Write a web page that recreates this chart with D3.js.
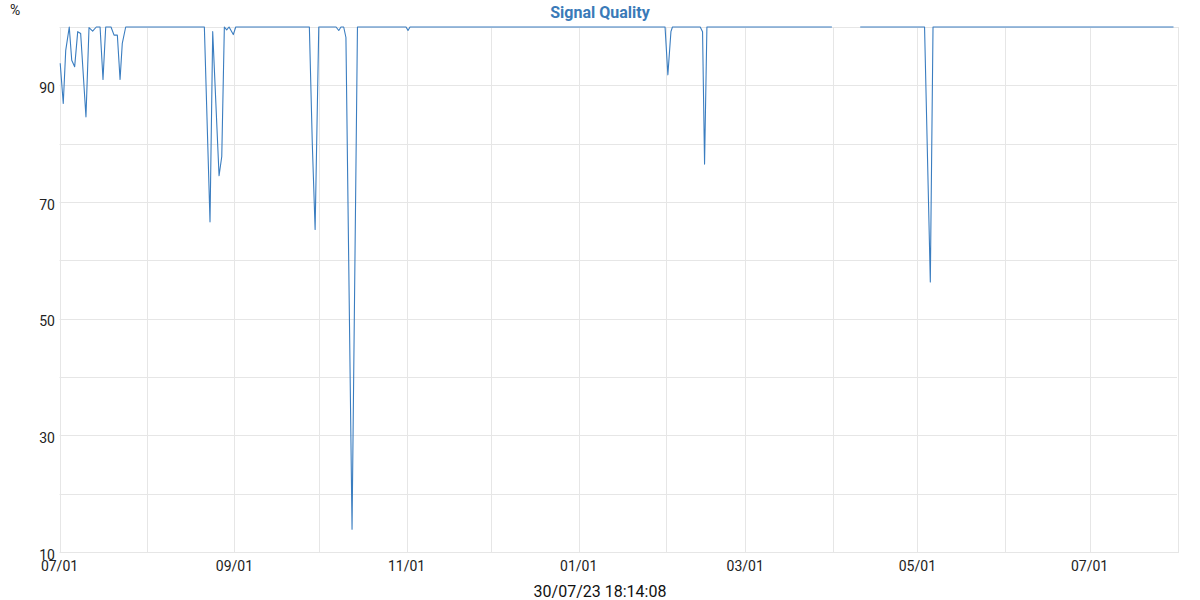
<!DOCTYPE html>
<html>
<head>
<meta charset="utf-8">
<script src="https://cdn.jsdelivr.net/npm/d3@7"></script>
<style>
  html, body { margin: 0; padding: 0; background: #fff; }
  svg { display: block; font-family: Roboto, "Noto Sans", sans-serif; }
</style>
</head>
<body>
<svg id="chart" width="1200" height="600"></svg>
<script>
// vertices of the signal quality trace (null = no data)
const sampleTimes = [
  '2022-07-01T06:00', '2022-07-02T08:00', '2022-07-03T05:00', '2022-07-04T11:00',
  '2022-07-05T08:00', '2022-07-06T09:00', '2022-07-07T11:00', '2022-07-08T12:00',
  '2022-07-10T09:00', '2022-07-11T11:00', '2022-07-12T18:00', '2022-07-14T01:00',
  '2022-07-15T09:00', '2022-07-16T10:00', '2022-07-17T09:00', '2022-07-19T06:00',
  '2022-07-20T08:00', '2022-07-21T12:00', '2022-07-22T11:00', '2022-07-23T06:00',
  '2022-07-24T11:00', '2022-08-21T08:00', '2022-08-23T08:00', '2022-08-24T07:00',
  '2022-08-26T13:00', '2022-08-27T12:00', '2022-08-28T10:00', '2022-08-29T06:00',
  '2022-08-30T02:00', '2022-08-31T14:00', '2022-09-01T11:00', '2022-09-27T13:00',
  '2022-09-28T14:00', '2022-09-29T14:00', '2022-09-30T21:00', '2022-10-07T00:00',
  '2022-10-07T23:00', '2022-10-08T18:00', '2022-10-09T17:00', '2022-10-10T12:00',
  '2022-10-12T16:00', '2022-10-14T14:00', '2022-10-31T19:00', '2022-11-01T12:00',
  '2022-11-02T05:00', '2023-01-31T14:00', '2023-02-01T14:00', '2023-02-02T16:00',
  '2023-02-03T05:00', '2023-02-13T01:00', '2023-02-13T21:00', '2023-02-14T14:00',
  '2023-02-15T10:00', '2023-03-31T17:00', '2023-04-05T00:00', '2023-04-10T18:00',
  '2023-05-03T13:00', '2023-05-05T14:00', '2023-05-06T13:00', '2023-07-30T18:14'
]
const quality = [
  93.8, 86.9, 96, 100,
  94.3, 93.2, 99.2, 98.9,
  84.6, 99.9, 99.3, 100,
  100, 91, 100, 100,
  98.6, 98.6, 91, 97.2,
  100, 100, 66.6, 99.2,
  74.5, 77.8, 100, 99.5,
  100, 98.7, 100, 100,
  80, 65.3, 100, 100,
  99.4, 100, 100, 98.2,
  13.9, 100, 100, 99.4,
  100, 100, 91.8, 99.2,
  100, 100, 99.2, 76.5,
  100, 100, null, 100,
  100, 56.3, 100, 100
]
const yTickValues = [10, 20, 30, 40, 50, 60, 70, 80, 90, 100]
const yLabelValues = [10, 30, 50, 70, 90]
const xDomain = ['2022-07-01T00:00', '2023-08-01T00:00']
const chartTitle = 'Signal Quality'
const unitLabel = '%'
const stampLabel = '30/07/23 18:14:08'

const parseTime = d3.utcParse('%Y-%m-%dT%H:%M')
const points = sampleTimes.map((t, i) => ({ date: parseTime(t), value: quality[i] }))

const margin = { left: 59.5, right: 1177, top: 27, bottom: 552 }
const svg = d3.select('#chart')

const x = d3.scaleUtc()
  .domain(xDomain.map(parseTime))
  .range([margin.left, margin.right])

const y = d3.scaleLinear()
  .domain([10, 100])
  .range([margin.bottom, margin.top])

const months = d3.utcMonth.range(x.domain()[0], x.domain()[1])
const labelMonths = months.filter((d, i) => i % 2 === 0)

// grid
const grid = svg.append('g').attr('stroke', '#e6e6e6').attr('stroke-width', 1)
grid.selectAll('.h')
  .data(yTickValues)
  .join('line')
  .attr('x1', margin.left).attr('x2', margin.right)
  .attr('y1', (d) => Math.round(y(d)) + 0.5).attr('y2', (d) => Math.round(y(d)) + 0.5)
grid.selectAll('.v')
  .data(months)
  .join('line')
  .attr('x1', (d) => Math.round(x(d)) + 0.5).attr('x2', (d) => Math.round(x(d)) + 0.5)
  .attr('y1', margin.top).attr('y2', margin.bottom)
svg.append('rect')
  .attr('x', Math.round(margin.left) + 0.5).attr('y', margin.top + 0.5)
  .attr('width', Math.round(margin.right - margin.left))
  .attr('height', margin.bottom - margin.top)
  .attr('fill', 'none').attr('stroke', '#e6e6e6')

// line
const line = d3.line()
  .defined((d) => d.value !== null)
  .x((d) => x(d.date))
  .y((d) => y(d.value))

svg.append('path')
  .datum(points)
  .attr('fill', 'none')
  .attr('stroke', '#3a7dc0')
  .attr('stroke-width', 1.1)
  .attr('stroke-linejoin', 'round')
  .attr('d', line)

// y labels
svg.append('g').selectAll('text')
  .data(yLabelValues)
  .join('text')
  .attr('x', 55)
  .attr('y', (d) => y(d) + 7.5)
  .attr('text-anchor', 'end')
  .attr('font-size', 14)
  .attr('fill', '#222')
  .text((d) => d)

// x labels
const fmt = d3.utcFormat('%m/%d')
svg.append('g').selectAll('text')
  .data(labelMonths)
  .join('text')
  .attr('x', (d) => x(d))
  .attr('y', 571)
  .attr('text-anchor', 'middle')
  .attr('font-size', 14)
  .attr('fill', '#222')
  .text(fmt)

svg.append('text')
  .attr('x', 600).attr('y', 18)
  .attr('text-anchor', 'middle')
  .attr('font-size', 16).attr('font-weight', 'bold')
  .attr('fill', '#3a7ab8')
  .text(chartTitle)

svg.append('text')
  .attr('x', 10).attr('y', 15)
  .attr('font-size', 14).attr('fill', '#222')
  .text(unitLabel)

svg.append('text')
  .attr('x', 600).attr('y', 597)
  .attr('text-anchor', 'middle')
  .attr('font-size', 16).attr('fill', '#111')
  .text(stampLabel)
</script>
</body>
</html>
